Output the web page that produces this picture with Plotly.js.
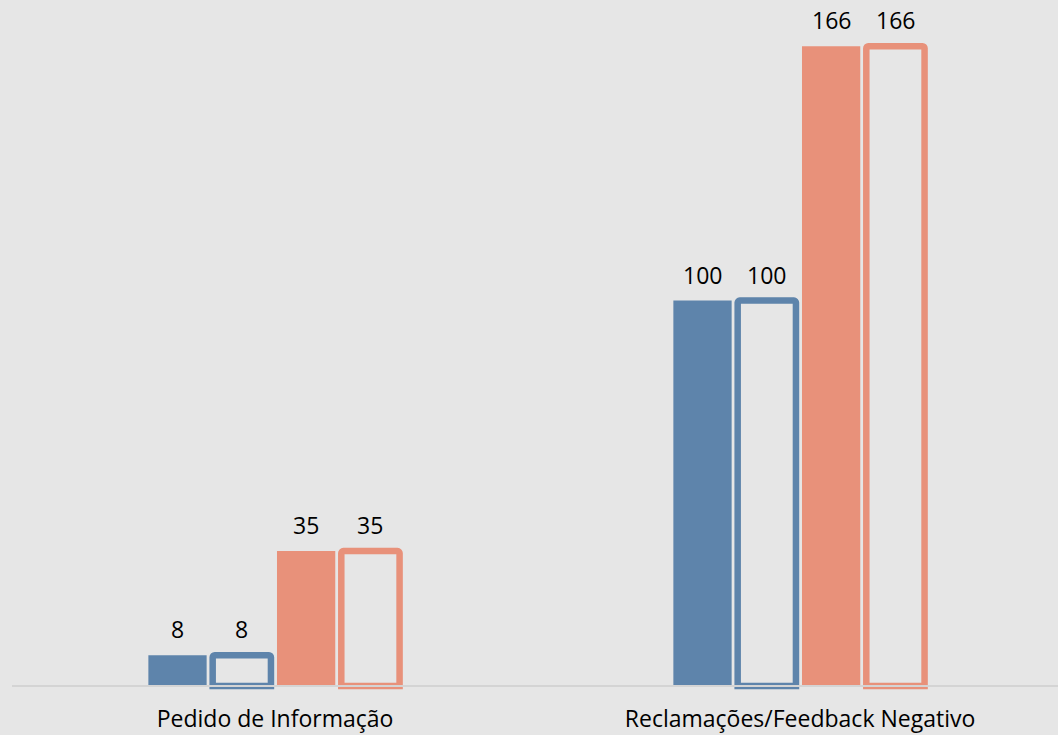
<!DOCTYPE html>
<html>
<head>
<meta charset="utf-8">
<script src="https://cdn.plot.ly/plotly-3.0.1.min.js"></script>
<style>
  html, body { margin: 0; padding: 0; background: #e6e6e6; }
  #chart { width: 1058px; height: 735px; }
</style>
</head>
<body>
<div id="chart"></div>
<script>
// Categories and series values
const categories = ["Pedido de Informação", "Reclamações/Feedback Negativo"];
const seriesBlueFilled = [8, 100];
const seriesBlueOutline = [8, 100];
const seriesSalmonFilled = [35, 166];
const seriesSalmonOutline = [35, 166];

const BLUE = "#5e84ab";
const SALMON = "#e8917a";
const BG = "#e6e6e6";
const FONT = "Open Sans, sans-serif";

// Bar layout: four bars per category, evenly spaced slots
const slot = 0.1225;
const barWidth = 0.111;
const seriesList = [
  { values: seriesBlueFilled, color: BLUE, outline: false },
  { values: seriesBlueOutline, color: BLUE, outline: true },
  { values: seriesSalmonFilled, color: SALMON, outline: false },
  { values: seriesSalmonOutline, color: SALMON, outline: true }
];

const xIdx = categories.map((_, i) => i);
const traces = [];
const annotations = [];

seriesList.forEach((s, k) => {
  const center = (k - 1.5) * slot - 0.002;
  traces.push({
    type: "bar",
    x: xIdx,
    y: s.values,
    width: barWidth,
    offset: center - barWidth / 2,
    marker: s.outline
      ? { color: "rgba(0,0,0,0)", line: { color: s.color, width: 6.5 }, cornerradius: 2 }
      : { color: s.color, line: { width: 0 } },
    hoverinfo: "skip",
    showlegend: false
  });
  // value label above each bar
  s.values.forEach((v, i) => {
    annotations.push({
      x: i + center,
      y: v,
      xref: "x",
      yref: "y",
      text: String(v),
      showarrow: false,
      yanchor: "bottom",
      yshift: 8,
      font: { family: FONT, size: 23, color: "#000000" }
    });
  });
});

const layout = {
  width: 1058,
  height: 735,
  paper_bgcolor: BG,
  plot_bgcolor: BG,
  margin: { l: 12, r: 0, t: 0, b: 45 },
  barmode: "overlay",
  showlegend: false,
  xaxis: {
    type: "linear",
    range: [-0.501, 1.4914],
    tickvals: xIdx,
    ticktext: categories,
    showgrid: false,
    zeroline: false,
    showline: false,
    ticks: "",
    ticklabelstandoff: 13,
    tickfont: { family: FONT, size: 23, color: "#000000" },
    fixedrange: true
  },
  yaxis: {
    range: [-1.04, 178],
    visible: false,
    showgrid: false,
    zeroline: false,
    fixedrange: true
  },
  shapes: [{
    type: "line",
    xref: "paper",
    yref: "y",
    x0: 0,
    x1: 1,
    y0: 0,
    y1: 0,
    layer: "above",
    line: { color: "#d4d4d4", width: 2 }
  }],
  annotations: annotations
};

Plotly.newPlot("chart", traces, layout, { displayModeBar: false, staticPlot: true });
</script>
</body>
</html>
